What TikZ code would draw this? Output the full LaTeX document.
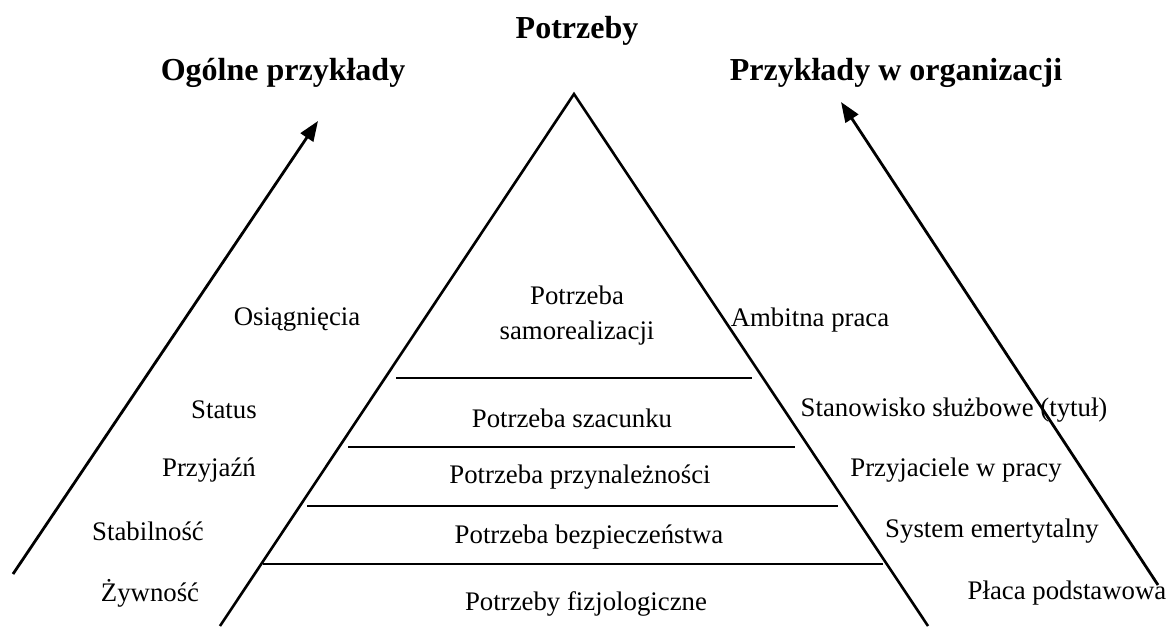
\documentclass[tikz,border=0pt]{standalone}
\usepackage{fontspec}
\setmainfont{Liberation Serif}
\usetikzlibrary{arrows.meta}
\begin{document}
\begin{tikzpicture}[x=0.5pt,y=-0.5pt,
  heading/.style={font=\fontsize{16}{19}\selectfont\bfseries, inner sep=0pt},
  label/.style={font=\fontsize{13.4}{17.5}\selectfont, inner sep=0pt, align=center},
  edge/.style={line width=1.3pt, line join=miter},
  level/.style={line width=0.9pt},
  trend/.style={line width=1.4pt, -{Triangle[length=10pt,width=7.5pt]}}]
\useasboundingbox (0,0) rectangle (1170,626);

% headings
\node[heading] (hneeds) at (577,31) {Potrzeby};
\node[heading] (hgeneral) at (283,73) {Ogólne przykłady};
\node[heading] (horg) at (896,73) {Przykłady w organizacji};

% pyramid outline
\coordinate (apex) at (574,94);
\coordinate (baseL) at (220,626);
\coordinate (baseR) at (928,626);
\draw[edge] (baseL) -- (apex) -- (baseR);

% level separators
\coordinate (l1a) at (396,378); \coordinate (l1b) at (752,378);
\coordinate (l2a) at (348,447); \coordinate (l2b) at (795,447);
\coordinate (l3a) at (307,506); \coordinate (l3b) at (838,506);
\coordinate (l4a) at (263,564); \coordinate (l4b) at (883,564);
\draw[level] (l1a) -- (l1b);
\draw[level] (l2a) -- (l2b);
\draw[level] (l3a) -- (l3b);
\draw[level] (l4a) -- (l4b);

% rising arrows
\coordinate (genFrom) at (13,574);
\coordinate (genTo) at (318,121);
\coordinate (orgFrom) at (1158,585);
\coordinate (orgTo) at (841,102);
\draw[trend] (genFrom) -- (genTo);
\draw[trend] (orgFrom) -- (orgTo);

% pyramid levels
\node[label] (n5) at (577,316) {Potrzeba\\samorealizacji};
\node[label] (n4) at (572,418) {Potrzeba szacunku};
\node[label] (n3) at (580,477) {Potrzeba przynależności};
\node[label] (n2) at (589,537) {Potrzeba bezpieczeństwa};
\node[label] (n1) at (586,604) {Potrzeby fizjologiczne};

% general examples
\node[label] (g5) at (297,320) {Osiągnięcia};
\node[label] (g4) at (224,410) {Status};
\node[label] (g3) at (209,470) {Przyjaźń};
\node[label] (g2) at (148,531) {Stabilność};
\node[label] (g1) at (150,593) {Żywność};

% examples in an organization
\node[label] (o5) at (810,320) {Ambitna praca};
\node[label] (o4) at (954,410) {Stanowisko służbowe (tytuł)};
\node[label] (o3) at (956,470) {Przyjaciele w pracy};
\node[label] (o2) at (992,531) {System emertytalny};
\node[label] (o1) at (1067,593) {Płaca podstawowa};
\end{tikzpicture}
\end{document}
